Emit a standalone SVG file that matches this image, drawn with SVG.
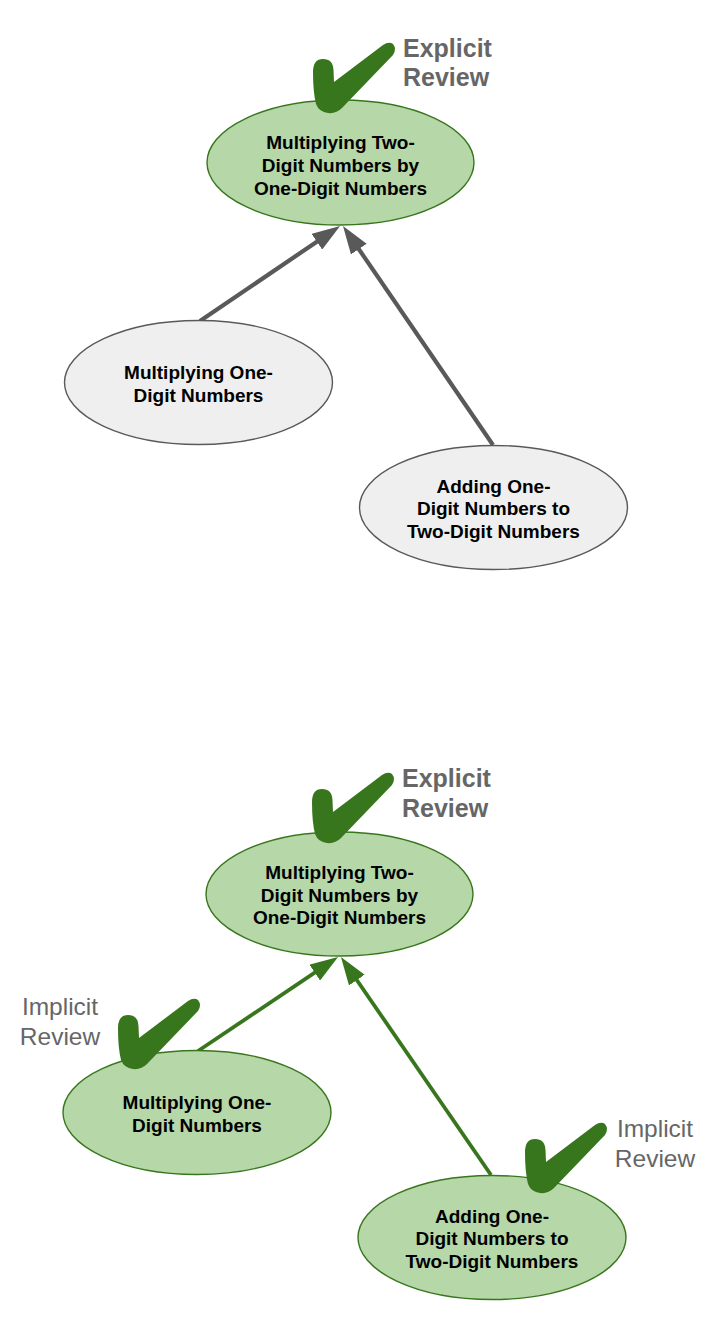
<svg xmlns="http://www.w3.org/2000/svg" xmlns:xlink="http://www.w3.org/1999/xlink" width="720" height="1343" viewBox="0 0 720 1343">
<style>
.bg{fill:#ffffff}
.gn{fill:#b6d7a8;stroke:#38761d;stroke-width:1.4}
.gy{fill:#efefef;stroke:#595959;stroke-width:1.4}
.nt{font-family:"Liberation Sans",Arial,sans-serif;font-size:19px;font-weight:bold;fill:#000;text-anchor:middle}
.ex{font-family:"Liberation Sans",Arial,sans-serif;font-size:25px;font-weight:bold;fill:#666666}
.im{font-family:"Liberation Sans",Arial,sans-serif;font-size:24.5px;fill:#666666;text-anchor:middle}
.cg{stroke:#595959;stroke-width:4.2;fill:none}
.cgr{stroke:#38761d;stroke-width:3.8;fill:none}
.chk{fill:#38761d}
</style>
<defs>
<marker id="ahg" viewBox="0 0 28 19" refX="8" refY="9.5" markerWidth="28" markerHeight="19" markerUnits="userSpaceOnUse" orient="auto">
<path d="M0,0 L28,9.5 L0,19 Z" fill="#595959"/>
</marker>
<marker id="ahgr" viewBox="0 0 28 19" refX="8" refY="9.5" markerWidth="28" markerHeight="19" markerUnits="userSpaceOnUse" orient="auto">
<path d="M0,0 L28,9.5 L0,19 Z" fill="#38761d"/>
</marker>
<path id="check" class="chk" d="M 0 30 Q 0 17 10 17 Q 20 17 20.5 28 L 21 40 L 70 3 Q 76 -1 80 2 Q 84 7 80 13 L 29 66 Q 23 72 15 71 Q 6 70 3 62 Q 0 50 0 30 Z"/>
</defs>
<rect class="bg" x="0" y="0" width="720" height="1343"/>

<g id="connectors">
<line class="cg" x1="200" y1="321" x2="323.5" y2="237.2" marker-end="url(#ahg)"/>
<line class="cg" x1="493" y1="445" x2="354.3" y2="242.5" marker-end="url(#ahg)"/>
<line class="cgr" x1="198" y1="1051" x2="321.4" y2="968.2" marker-end="url(#ahgr)"/>
<line class="cgr" x1="491" y1="1175" x2="352.3" y2="973.5" marker-end="url(#ahgr)"/>
</g>

<g id="top-target">
<ellipse class="gn" cx="340.5" cy="162.5" rx="133.5" ry="62.5"/>
<text class="nt" x="340.5" y="149">Multiplying Two-</text>
<text class="nt" x="340.5" y="172">Digit Numbers by</text>
<text class="nt" x="340.5" y="195">One-Digit Numbers</text>
</g>
<g id="top-explicit">
<use xlink:href="#check" x="313" y="42"/>
<text class="ex" x="403" y="57">Explicit</text>
<text class="ex" x="403" y="86">Review</text>
</g>
<g id="top-mult-one">
<ellipse class="gy" cx="198.5" cy="382.5" rx="134" ry="62"/>
<text class="nt" x="198.5" y="379">Multiplying One-</text>
<text class="nt" x="198.5" y="402">Digit Numbers</text>
</g>
<g id="top-adding">
<ellipse class="gy" cx="493.5" cy="507.5" rx="134" ry="62"/>
<text class="nt" x="493.5" y="492.5">Adding One-</text>
<text class="nt" x="493.5" y="515">Digit Numbers to</text>
<text class="nt" x="493.5" y="537.5">Two-Digit Numbers</text>
</g>

<g id="bottom-target">
<ellipse class="gn" cx="339.5" cy="894" rx="133.5" ry="62"/>
<text class="nt" x="339.5" y="879">Multiplying Two-</text>
<text class="nt" x="339.5" y="901.5">Digit Numbers by</text>
<text class="nt" x="339.5" y="924">One-Digit Numbers</text>
</g>
<g id="bottom-explicit">
<use xlink:href="#check" x="312" y="772"/>
<text class="ex" x="402" y="787">Explicit</text>
<text class="ex" x="402" y="817">Review</text>
</g>
<g id="bottom-mult-one">
<ellipse class="gn" cx="197" cy="1112.5" rx="134" ry="62"/>
<text class="nt" x="197" y="1109">Multiplying One-</text>
<text class="nt" x="197" y="1132">Digit Numbers</text>
</g>
<g id="bottom-implicit-left">
<use xlink:href="#check" x="118" y="998"/>
<text class="im" x="60" y="1015">Implicit</text>
<text class="im" x="60" y="1045">Review</text>
</g>
<g id="bottom-adding">
<ellipse class="gn" cx="492" cy="1237.5" rx="134" ry="62"/>
<text class="nt" x="492" y="1222.5">Adding One-</text>
<text class="nt" x="492" y="1245">Digit Numbers to</text>
<text class="nt" x="492" y="1267.5">Two-Digit Numbers</text>
</g>
<g id="bottom-implicit-right">
<use xlink:href="#check" x="525" y="1122"/>
<text class="im" x="655" y="1137">Implicit</text>
<text class="im" x="655" y="1167">Review</text>
</g>
</svg>
